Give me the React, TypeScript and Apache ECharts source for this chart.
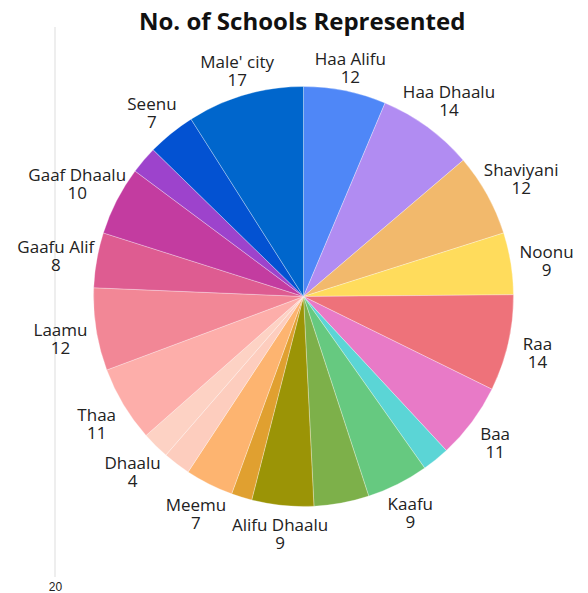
import React, { useEffect, useRef } from 'react';
import * as echarts from 'echarts';

const titleText = 'No. of Schools Represented';

const categories = [
  'Haa Alifu', 'Haa Dhaalu', 'Shaviyani', 'Noonu', 'Raa', 'Baa', 'Lhaviyani',
  'Kaafu', 'Alifu Alifu', 'Alifu Dhaalu', 'Vaavu', 'Meemu', 'Faafu', 'Dhaalu',
  'Thaa', 'Laamu', 'Gaafu Alif', 'Gaaf Dhaalu', 'Fuvahmulah', 'Seenu', "Male' city",
];
const values = [12, 14, 12, 9, 14, 11, 4, 9, 8, 9, 3, 7, 4, 4, 11, 12, 8, 10, 4, 7, 17];
const showLabel = [
  true, true, true, true, true, true, false, true, false, true, false, true, false,
  true, true, true, true, true, false, true, true,
];
const colors = [
  '#4F87F7', '#B18CF2', '#F2B96C', '#FFDC5C', '#EE727A', '#E87AC7', '#5BD5D6',
  '#66C980', '#7DB04A', '#9B9406', '#E0A030', '#FDB470', '#FDCDBE', '#FDD2C4',
  '#FDAEAA', '#F28796', '#DE5C91', '#C33CA0', '#9D43CC', '#0352D2', '#0066CC',
];
const axisTickLabels = ['20'];

export default function App() {
  const ref = useRef<HTMLDivElement>(null);
  useEffect(() => {
    document.body.style.margin = '0';
    const chart = echarts.init(ref.current!, null, { renderer: 'svg' });
    const cx = 303.5;
    const cy = 296.5;
    const r = 210;
    const total = values.reduce((a, b) => a + b, 0);
    const data = categories.map((name, i) => ({
      name,
      value: values[i],
      itemStyle: { color: colors[i] },
      label: { show: showLabel[i] },
      labelLine: { show: false },
    }));
    const option = {
      animation: false,
      title: {
        text: titleText,
        left: 134,
        top: 3,
        textStyle: { fontFamily: 'Open Sans', fontWeight: 'bold', fontSize: 24, color: '#111' },
      },
      graphic: [
        { type: 'line', shape: { x1: 55, y1: 27, x2: 55, y2: 577 }, style: { stroke: '#dddddd', lineWidth: 1 } },
        {
          type: 'text', x: 55.5, y: 587,
          style: { text: axisTickLabels[0], fill: '#222', fontSize: 12, fontFamily: 'sans-serif', align: 'center', verticalAlign: 'middle' },
        },
      ],
      series: [
        {
          type: 'pie',
          center: [cx, cy],
          radius: [0, r],
          startAngle: 90,
          clockwise: true,
          avoidLabelOverlap: false,
          itemStyle: { borderColor: 'rgba(255,255,255,0.6)', borderWidth: 0.5 },
          label: {
            position: 'outside',
            formatter: '{b}\n{c}',
            fontFamily: 'Open Sans',
            fontSize: 17,
            lineHeight: 18,
            color: '#222',
          },
          labelLine: { show: false },
          labelLayout: (params: any) => {
            const i = params.dataIndex;
            let cum = 0;
            for (let j = 0; j < i; j++) cum += values[j];
            const mid = ((90 - ((cum + values[i] / 2) / total) * 360) * Math.PI) / 180;
            const c = Math.cos(mid);
            const s = Math.sin(mid);
            const hw = params.labelRect.width / 2;
            const d = r + 23 + 0.49 * hw * Math.abs(c);
            return { x: cx + d * c, y: cy - d * s + 3, align: 'center', verticalAlign: 'middle' };
          },
          data,
        },
      ],
    };
    chart.setOption(option as any);
    return () => chart.dispose();
  }, []);
  return <div ref={ref} style={{ width: 588, height: 593 }} />;
}
